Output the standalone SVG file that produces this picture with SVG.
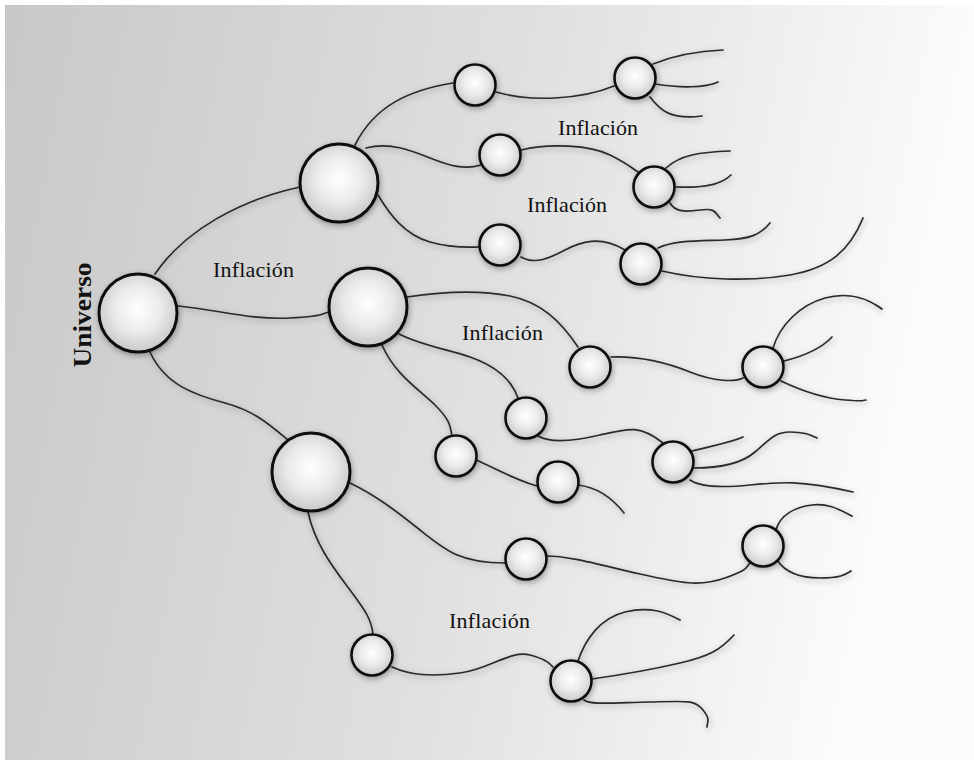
<svg xmlns="http://www.w3.org/2000/svg" width="974" height="771" viewBox="0 0 974 771">
  <defs>
    <linearGradient id="bg" x1="0" y1="0" x2="1" y2="0.15">
      <stop offset="0" stop-color="#c8c8c8"/>
      <stop offset="0.55" stop-color="#e0e0e0"/>
      <stop offset="1" stop-color="#fcfcfc"/>
    </linearGradient>
    <radialGradient id="ball" cx="0.5" cy="0.45" r="0.55">
      <stop offset="0" stop-color="#ffffff"/>
      <stop offset="0.55" stop-color="#eaeaea"/>
      <stop offset="1" stop-color="#c8c8c8"/>
    </radialGradient>
    <filter id="shadow" x="-20%" y="-20%" width="140%" height="140%">
      <feGaussianBlur in="SourceAlpha" stdDeviation="3"/>
      <feOffset dx="1" dy="2" result="b"/>
      <feComponentTransfer><feFuncA type="linear" slope="0.35"/></feComponentTransfer>
      <feMerge><feMergeNode/><feMergeNode in="SourceGraphic"/></feMerge>
    </filter>
  </defs>
  <style>
    .ln{fill:none;stroke:#2a2a2a;stroke-width:1.7;stroke-linecap:round}
    .big{fill:url(#ball);stroke:#111;stroke-width:3}
    .sm{fill:url(#ball);stroke:#111;stroke-width:2.6}
    .lbl{font-family:"Liberation Serif","Times New Roman",serif;font-size:22px;fill:#111}
    .uni{font-family:"Liberation Serif","Times New Roman",serif;font-size:26px;font-weight:bold;fill:#111}
  </style>
  <rect width="974" height="771" fill="#ffffff"/>
  <rect x="5" y="5" width="969" height="755" fill="url(#bg)"/>

  <g id="connectors" filter="url(#shadow)">
    <path class="ln" d="M155,274 C185,230 240,200 300,187"/>
    <path class="ln" d="M178,306 C220,310 250,320 290,318 S320,313 330,312"/>
    <path class="ln" d="M150,352 C165,385 195,395 225,403 S270,425 288,440"/>
    <path class="ln" d="M355,145 C375,105 410,90 453,83"/>
    <path class="ln" d="M496,92 C530,102 580,100 614,86"/>
    <path class="ln" d="M653,64 C675,55 700,51 723,50"/>
    <path class="ln" d="M655,84 C680,88 705,88 718,82"/>
    <path class="ln" d="M650,97 C660,110 670,120 702,116"/>
    <path class="ln" d="M366,148 C390,142 410,150 430,158 S465,170 481,165"/>
    <path class="ln" d="M521,150 C550,143 590,145 610,155 S630,167 638,172"/>
    <path class="ln" d="M666,168 C680,155 700,152 730,151"/>
    <path class="ln" d="M676,187 C700,188 720,186 731,175"/>
    <path class="ln" d="M670,203 C675,212 685,212 700,210 S715,212 720,218"/>
    <path class="ln" d="M378,195 C390,215 405,235 430,242 S470,247 480,247"/>
    <path class="ln" d="M521,257 C535,265 550,258 565,250 S600,235 625,250"/>
    <path class="ln" d="M658,248 C675,240 700,241 725,240 S760,235 770,223"/>
    <path class="ln" d="M662,271 C700,280 750,282 790,275 S850,250 863,218"/>
    <path class="ln" d="M407,297 C440,292 480,290 510,296 S560,320 578,347"/>
    <path class="ln" d="M611,357 C640,356 665,362 690,372 S735,382 743,378"/>
    <path class="ln" d="M773,348 C780,325 800,305 825,298 S870,300 882,309"/>
    <path class="ln" d="M784,361 C800,357 820,350 832,337"/>
    <path class="ln" d="M781,381 C800,390 820,398 845,400 S860,400 866,400"/>
    <path class="ln" d="M399,334 C420,345 450,350 470,357 S510,375 518,398"/>
    <path class="ln" d="M538,436 C550,443 570,442 600,435 S640,425 663,443"/>
    <path class="ln" d="M692,451 C710,446 730,443 743,437"/>
    <path class="ln" d="M694,468 C715,468 740,465 755,452 S775,432 790,432 S810,435 817,438"/>
    <path class="ln" d="M690,480 C700,487 720,488 750,485 S800,480 853,492"/>
    <path class="ln" d="M382,345 C395,375 420,390 435,405 S450,425 452,436"/>
    <path class="ln" d="M476,460 C495,468 515,480 537,486"/>
    <path class="ln" d="M578,485 C595,487 610,495 624,513"/>
    <path class="ln" d="M350,483 C375,495 395,510 420,530 S460,563 505,563"/>
    <path class="ln" d="M546,556 C570,556 600,565 640,574 S700,587 725,578 S745,568 750,563"/>
    <path class="ln" d="M776,530 C780,515 795,507 812,505 S840,510 852,516"/>
    <path class="ln" d="M777,560 C785,572 800,578 820,578 S845,575 851,571"/>
    <path class="ln" d="M308,512 C315,545 335,570 350,590 S372,620 373,635"/>
    <path class="ln" d="M392,667 C410,675 430,677 460,673 S510,650 530,655 S550,665 553,667"/>
    <path class="ln" d="M578,661 C585,640 600,618 625,612 S665,612 680,620"/>
    <path class="ln" d="M592,679 C620,675 650,670 680,663 S720,650 734,635"/>
    <path class="ln" d="M584,700 C590,705 610,703 650,702 S695,700 703,710 S707,722 707,727"/>
  </g>

  <g filter="url(#shadow)">
    <g id="universo"><circle class="big" cx="138" cy="313" r="39"/></g>
    <g id="A"><circle class="big" cx="339" cy="183" r="39"/></g>
    <g id="B"><circle class="big" cx="368" cy="307" r="39"/></g>
    <g id="C"><circle class="big" cx="311" cy="472" r="39"/></g>
    <g id="a1"><circle class="sm" cx="475" cy="85" r="20.5"/></g>
    <g id="a2"><circle class="sm" cx="635" cy="78" r="20.5"/></g>
    <g id="a3"><circle class="sm" cx="500" cy="155" r="20.5"/></g>
    <g id="a4"><circle class="sm" cx="654" cy="187" r="20.5"/></g>
    <g id="a5"><circle class="sm" cx="500" cy="245" r="20.5"/></g>
    <g id="a6"><circle class="sm" cx="641" cy="264" r="20.5"/></g>
    <g id="b1"><circle class="sm" cx="590" cy="367" r="20.5"/></g>
    <g id="b2"><circle class="sm" cx="763" cy="367" r="20.5"/></g>
    <g id="b3"><circle class="sm" cx="526" cy="418" r="20.5"/></g>
    <g id="b4"><circle class="sm" cx="456" cy="456" r="20.5"/></g>
    <g id="b5"><circle class="sm" cx="558" cy="482" r="20.5"/></g>
    <g id="b6"><circle class="sm" cx="673" cy="462" r="20.5"/></g>
    <g id="c1"><circle class="sm" cx="526" cy="559" r="20.5"/></g>
    <g id="c2"><circle class="sm" cx="763" cy="546" r="20.5"/></g>
    <g id="c3"><circle class="sm" cx="372" cy="655" r="20.5"/></g>
    <g id="c4"><circle class="sm" cx="571" cy="681" r="20.5"/></g>
  </g>

  <g id="labels">
    <text class="uni" transform="translate(91,315) rotate(-90)" text-anchor="middle" textLength="105" lengthAdjust="spacingAndGlyphs">Universo</text>
    <text class="lbl" x="213" y="277" textLength="81" lengthAdjust="spacing">Inflación</text>
    <text class="lbl" x="558" y="135" textLength="80" lengthAdjust="spacing">Inflación</text>
    <text class="lbl" x="527" y="212" textLength="80" lengthAdjust="spacing">Inflación</text>
    <text class="lbl" x="462" y="340" textLength="81" lengthAdjust="spacing">Inflación</text>
    <text class="lbl" x="449" y="628" textLength="81" lengthAdjust="spacing">Inflación</text>
  </g>
</svg>
